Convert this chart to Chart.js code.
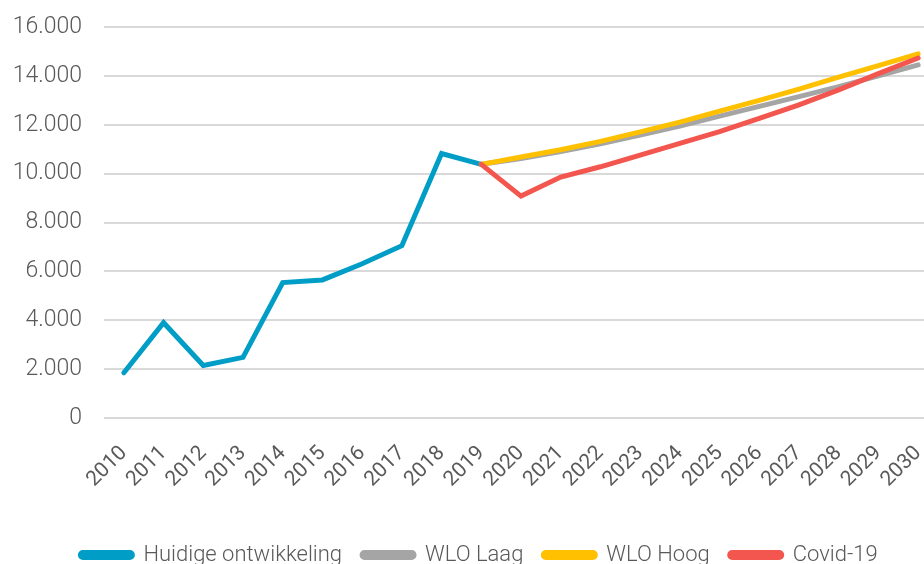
<!DOCTYPE html>
<html lang="nl">

<head>
    <meta charset="UTF-8">
    <title>Ontwikkeling</title>
    <script src="https://cdn.jsdelivr.net/npm/chart.js"></script>
    <style>
        html, body {
            margin: 0;
            padding: 0;
            background: #ffffff;
            overflow: hidden;
        }

        .chart-box {
            position: relative;
            width: 938px;
            height: 576px;
        }
    </style>
</head>

<body>
    <div class="chart-box">
        <canvas id="lineChart"></canvas>
    </div>

    <script>
        // jaren op de x-as
        const years = ['2010', '2011', '2012', '2013', '2014', '2015', '2016', '2017', '2018', '2019',
            '2020', '2021', '2022', '2023', '2024', '2025', '2026', '2027', '2028', '2029', '2030'];

        // gerealiseerd t/m 2019
        const huidige = [1850, 3900, 2150, 2480, 5540, 5650, 6310, 7050, 10820, 10380,
            null, null, null, null, null, null, null, null, null, null, null];

        // prognoses vanaf 2019
        const wloLaag = [null, null, null, null, null, null, null, null, null, 10380,
            10620, 10900, 11220, 11580, 11950, 12350, 12750, 13150, 13560, 14000, 14450];
        const wloHoog = [null, null, null, null, null, null, null, null, null, 10380,
            10680, 10980, 11320, 11710, 12110, 12560, 13000, 13460, 13950, 14420, 14900];
        const covid = [null, null, null, null, null, null, null, null, null, 10380,
            9080, 9860, 10280, 10760, 11240, 11720, 12260, 12810, 13430, 14090, 14730];

        const yTicks = [0, 2000, 4000, 6000, 8000, 10000, 12000, 14000, 16000];

        const textColor = '#595959';
        const fontFamily = "Roboto, 'Open Sans', sans-serif";

        function fmt(v) {
            return String(v).replace(/\B(?=(\d{3})+(?!\d))/g, '.');
        }

        function ds(label, data, color, order) {
            return {
                label: label,
                data: data,
                borderColor: color,
                backgroundColor: color,
                borderWidth: 5,
                borderCapStyle: 'round',
                pointRadius: 0,
                tension: 0,
                spanGaps: false,
                order: order
            };
        }

        // legenda iets naar rechts, zoals in het origineel
        const legendShift = {
            id: 'legendShift',
            afterLayout(chart) {
                chart.legend.left += 10;
                chart.legend.right += 10;
            }
        };

        const ctx = document.getElementById('lineChart').getContext('2d');
        new Chart(ctx, {
            type: 'line',
            data: {
                labels: years,
                datasets: [
                    ds('Huidige ontwikkeling', huidige, '#009EC6', 3),
                    ds('WLO Laag', wloLaag, '#A5A5A5', 2),
                    ds('WLO Hoog', wloHoog, '#FFC000', 1),
                    ds('Covid-19', covid, '#F2564E', 0)
                ]
            },
            plugins: [legendShift],
            options: {
                responsive: true,
                maintainAspectRatio: false,
                animation: false,
                layout: {
                    padding: { top: 27, left: 0, right: 0, bottom: 0 }
                },
                plugins: {
                    tooltip: { enabled: false },
                    legend: {
                        position: 'bottom',
                        labels: {
                            boxWidth: 52,
                            boxHeight: 5,
                            useBorderRadius: true,
                            borderRadius: 2.5,
                            padding: 20,
                            color: textColor,
                            font: { family: fontFamily, size: 22, weight: 300 },
                            sort: (a, b) => a.datasetIndex - b.datasetIndex
                        }
                    }
                },
                scales: {
                    x: {
                        offset: true,
                        grid: { display: false },
                        border: { display: false },
                        ticks: {
                            color: textColor,
                            font: { family: fontFamily, size: 21, weight: 400 },
                            minRotation: 45,
                            maxRotation: 45,
                            autoSkip: false,
                            padding: 15
                        },
                        afterFit: function (scale) {
                            scale.height = 106;
                            scale.paddingLeft = 0;
                            scale.paddingRight = 0;
                        }
                    },
                    y: {
                        min: 0,
                        max: 16000,
                        border: { display: false },
                        grid: {
                            color: '#D9D9D9',
                            lineWidth: 2,
                            drawTicks: false
                        },
                        afterBuildTicks: function (scale) {
                            scale.ticks = yTicks.map(v => ({ value: v }));
                        },
                        ticks: {
                            color: textColor,
                            font: { family: fontFamily, size: 23, weight: 300 },
                            padding: 22,
                            callback: v => fmt(v)
                        },
                        afterFit: function (scale) {
                            scale.width = 104;
                            scale.paddingTop = 0;
                            scale.paddingBottom = 0;
                        }
                    }
                }
            }
        });
    </script>
</body>

</html>
